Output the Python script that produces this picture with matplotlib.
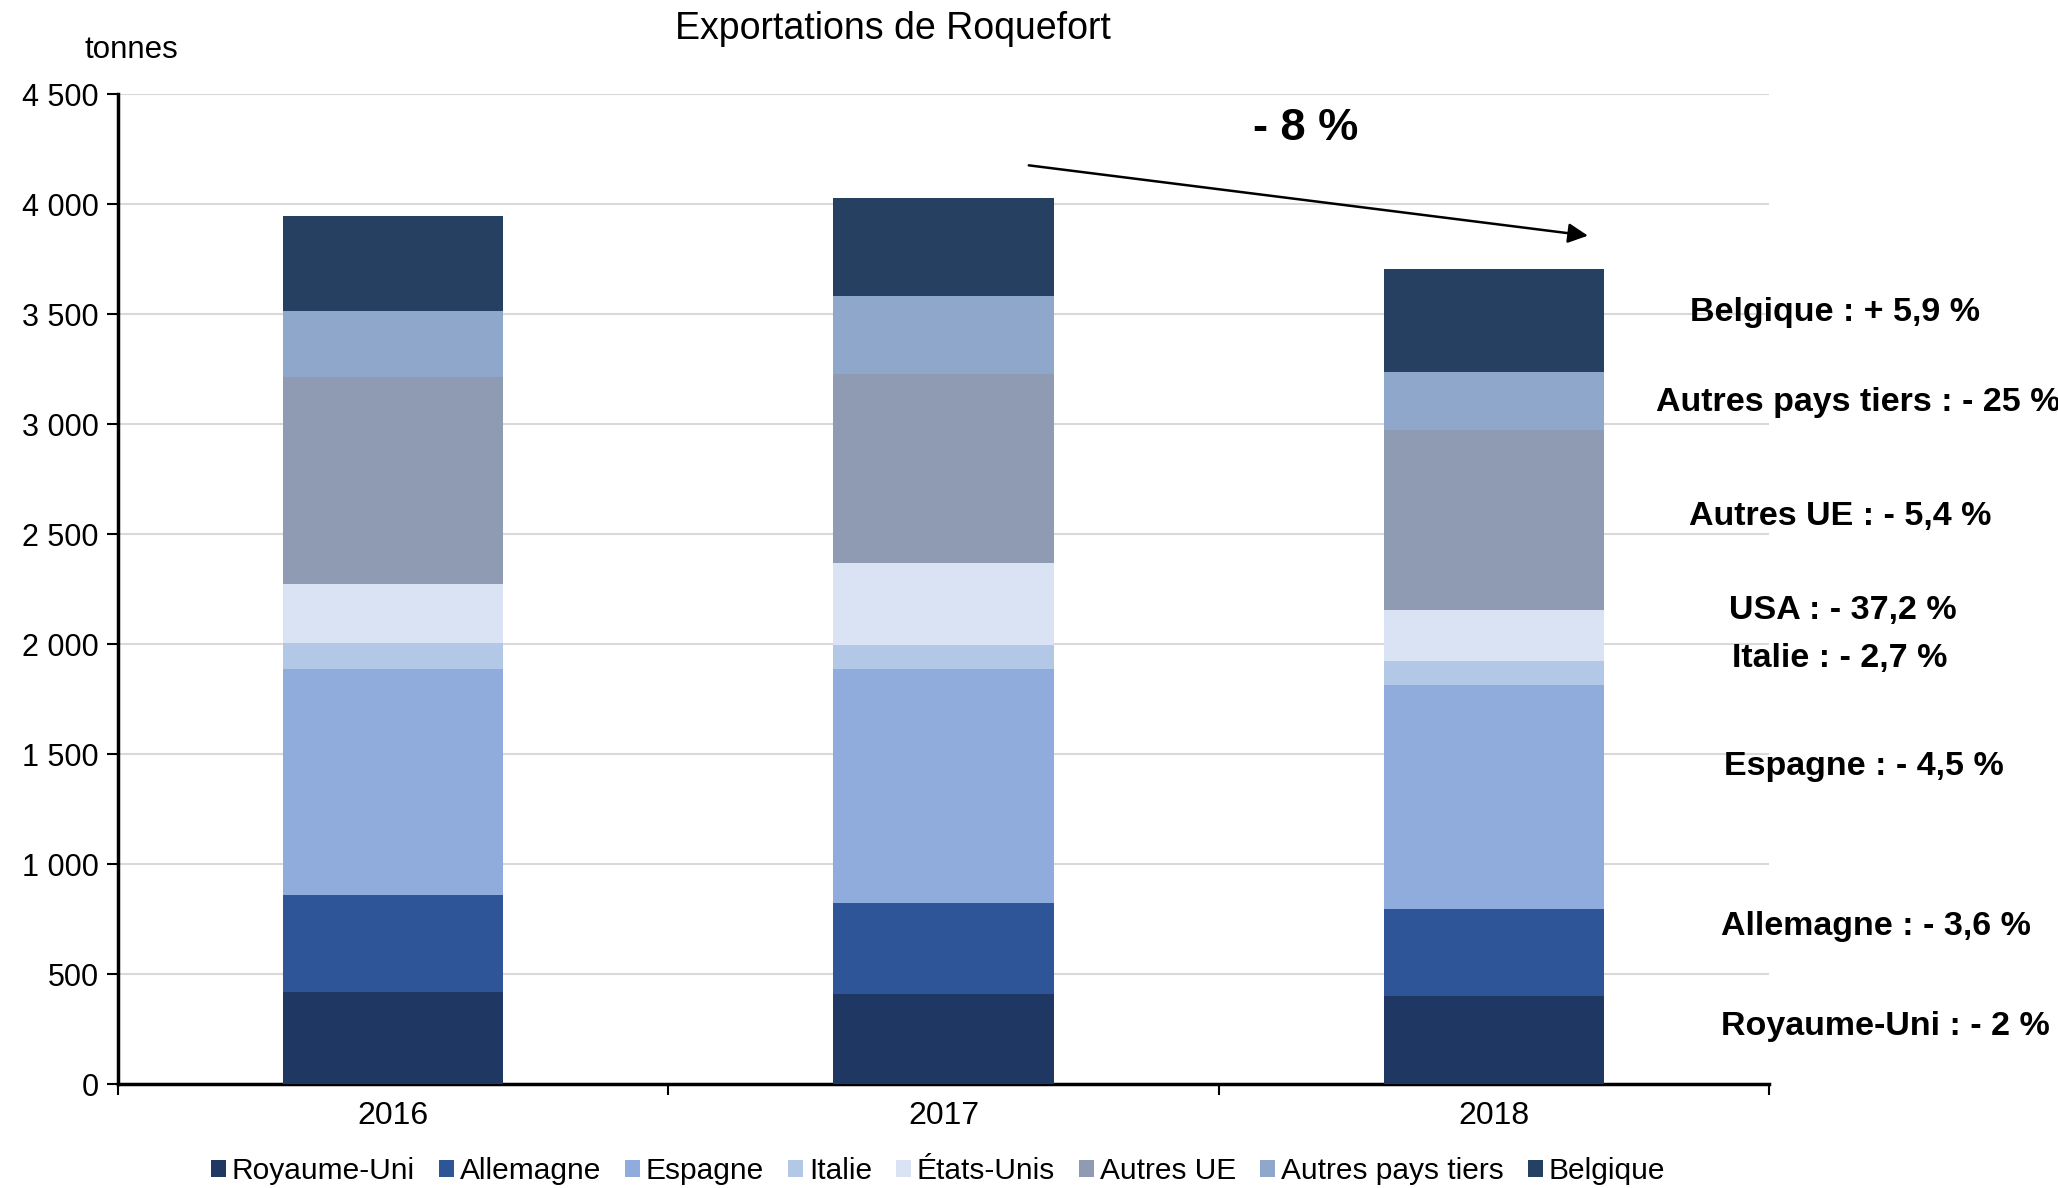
import matplotlib
matplotlib.use("Agg")
import matplotlib.pyplot as plt
from matplotlib.patches import Patch
import numpy as np

plt.rcParams['font.family'] = ['Liberation Sans', 'DejaVu Sans']

years = ["2016", "2017", "2018"]
series_names = ["Royaume-Uni", "Allemagne", "Espagne", "Italie", "États-Unis",
                "Autres UE", "Autres pays tiers", "Belgique"]
royaume_uni = [420, 410, 400]
allemagne = [438, 412, 398]
espagne = [1027, 1064, 1018]
italie = [120, 112, 108]
etats_unis = [268, 370, 233]
autres_ue = [944, 862, 815]
autres_tiers = [298, 355, 265]
belgique = [434, 443, 470]
series_values = [royaume_uni, allemagne, espagne, italie, etats_unis,
                 autres_ue, autres_tiers, belgique]
colors = ["#1F3763", "#2E5597", "#8FACDC", "#B3C7E7", "#DAE3F3",
          "#8F9BB3", "#8FA7CA", "#254061"]

yticks = [0, 500, 1000, 1500, 2000, 2500, 3000, 3500, 4000, 4500]
ytick_labels = ["0", "500", "1 000", "1 500", "2 000", "2 500", "3 000",
                "3 500", "4 000", "4 500"]

labels_right = ["Belgique : + 5,9 %", "Autres pays tiers : - 25 %",
                "Autres UE : - 5,4 %", "USA : - 37,2 %", "Italie : - 2,7 %",
                "Espagne : - 4,5 %", "Allemagne : - 3,6 %", "Royaume-Uni : - 2 %"]
label_pos = [(1835, 312), (1858, 402), (1840, 517), (1843, 610), (1840, 658),
             (1864, 767), (1876, 927), (1885, 1026)]
total_change = "- 8 %"

W, H = 2058, 1188
fig = plt.figure(figsize=(W / 100, H / 100), dpi=100)
ax = fig.add_axes([118 / W, 1 - 1084 / H, 1651 / W, 989.6 / H])

x = np.arange(len(years))
bottom = np.zeros(len(years))
for name, vals, c in zip(series_names, series_values, colors):
    ax.bar(x, vals, bottom=bottom, width=0.4, color=c, label=name, zorder=3,
           edgecolor='none')
    bottom += np.array(vals)

ax.set_xlim(-0.5, 2.5)
ax.set_ylim(0, 4500)
ax.set_yticks(yticks)
ax.set_yticklabels(ytick_labels, fontsize=22)
ax.set_xticks(x)
ax.set_xticklabels(years, fontsize=23)
ax.tick_params(axis='x', which='major', length=0, pad=12)
ax.set_xticks([-0.5, 0.5, 1.5, 2.5], minor=True)
ax.tick_params(axis='x', which='minor', length=8, width=1.5, direction='out')
ax.tick_params(axis='y', length=8, width=1.5, direction='out', pad=6)
ax.yaxis.grid(True, color='#D9D9D9', linewidth=1.5, zorder=0)
ax.set_axisbelow(True)
for s in ['top', 'right']:
    ax.spines[s].set_visible(False)
ax.spines['left'].set_linewidth(2.5)
ax.spines['bottom'].set_linewidth(2.5)

fig.text(893 / W, 1 - 29 / H, "Exportations de Roquefort", fontsize=27,
         ha='center', va='center')
fig.text(131 / W, 1 - 50 / H, "tonnes", fontsize=22.5, ha='center', va='center')

ax.annotate("", xy=(2.176, 3856), xytext=(1.150, 4179),
            arrowprops=dict(arrowstyle='-|>', color='black', lw=1.8,
                            mutation_scale=30), annotation_clip=False)
fig.text(1306 / W, 1 - 129 / H, total_change, fontsize=32.5, fontweight='bold',
         ha='center', va='center')

for t, (px, py) in zip(labels_right, label_pos):
    fig.text(px / W, 1 - py / H, t, fontsize=24.5, fontweight='bold',
             ha='center', va='center')

handles = [Patch(facecolor=c, edgecolor='none') for c in colors]
fig.legend(handles, series_names, loc='center', bbox_to_anchor=(938 / W, 1 - 1171 / H),
           ncol=8, frameon=False, fontsize=21.5, handlelength=0.5, handleheight=0.5,
           handletextpad=0.2, columnspacing=0.8)

fig.savefig("out.png", dpi=100)
